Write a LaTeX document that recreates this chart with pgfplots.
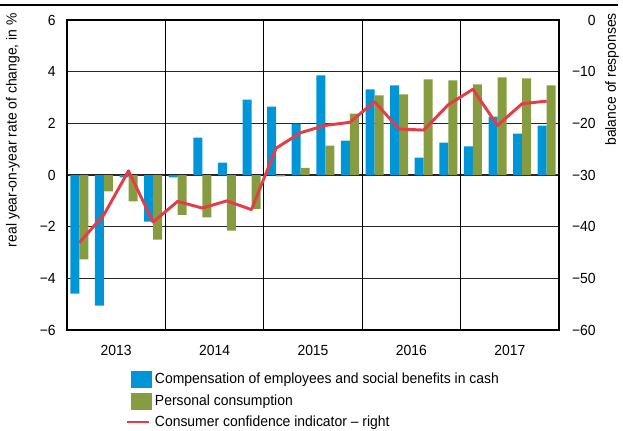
\documentclass[border=0pt]{standalone}
\usepackage{fontspec}
\setmainfont{Liberation Sans}[FakeStretch=0.95]
\usepackage{pgfplots}
\pgfplotsset{compat=1.18}

\definecolor{cblue}{HTML}{0095D6}
\definecolor{cgreen}{HTML}{879C40}
\definecolor{cred}{HTML}{E63C46}

% quarterly data, 2013Q1 .. 2017Q4
\pgfplotstableread{
q  comp   cons   conf
0  -4.59  -3.27  -43.1
1  -5.06  -0.63  -37.7
2  -0.09  -1.02  -29.2
3  -1.80  -2.50  -39.1
4  -0.09  -1.54  -35.1
5   1.45  -1.64  -36.4
6   0.48  -2.15  -35.0
7   2.92  -1.31  -36.7
8   2.65  -0.05  -24.8
9   1.99   0.28  -21.8
10  3.86   1.14  -20.4
11  1.33   2.38  -19.8
12  3.31   3.08  -15.8
13  3.47   3.12  -21.1
14  0.67   3.70  -21.3
15  1.25   3.66  -16.4
16  1.11   3.51  -13.4
17  2.26   3.78  -20.4
18  1.60   3.74  -16.2
19  1.91   3.47  -15.7
}\data

\begin{document}
\fontsize{11}{13}\selectfont
\begin{tikzpicture}
\pgfplotsset{
  every axis/.append style={
    width=369pt, height=232.5pt, scale only axis,
    xmin=-0.5, xmax=19.5,
    major tick length=0pt,
    tick label style={font=\fontsize{11}{13}\selectfont},
    label style={font=\fontsize{11}{13}\selectfont},
  },
}
\begin{axis}[
  name=ax,
  ymin=-6, ymax=6,
  ytick={-6,-4,...,6},
  yticklabels={−6,−4,−2,0,2,4,6},
  yticklabel style={anchor=east, inner sep=0pt, xshift=-8.25pt},
  xtick={1.5,5.5,9.5,13.5,17.5},
  xticklabels={2013,2014,2015,2016,2017},
  xticklabel style={anchor=north, inner sep=0pt, yshift=-11pt},
  extra x ticks={3.5,7.5,11.5,15.5},
  extra x tick labels={},
  extra x tick style={grid=major, major grid style={black, line width=0.8pt}},
  ymajorgrids=true,
  y grid style={black!85, line width=1.1pt},
  axis line style={black, line width=0.8pt},
  ylabel={real year-on-year rate of change, in \%},
  ylabel style={at={(axis description cs:-0.0955,1.023)}, anchor=south east, inner sep=0pt},
  ybar=0pt, bar width=6.75pt,
]
\addplot[fill=cblue, draw=none] table[x=q, y=comp] {\data};
\addplot[fill=cgreen, draw=none] table[x=q, y=cons] {\data};
\end{axis}
\begin{axis}[
  ymin=-60, ymax=0,
  ytick={-60,-50,...,0},
  yticklabels={−60,−50,−40,−30,−20,−10,0},
  axis y line*=right,
  axis x line=none,
  y axis line style={black, line width=0.8pt},
  yticklabel style={anchor=east, inner sep=0pt, xshift=27.75pt},
  ylabel={balance of responses},
  ylabel style={at={(axis description cs:1.0935,1.023)}, anchor=north east, inner sep=0pt},
  legend style={at={(axis description cs:0.12,-0.132)}, anchor=north west,
    draw=none, fill=none, inner sep=0pt, row sep=3.8pt,
    font=\fontsize{11}{13}\selectfont,
    nodes={inner xsep=2.5pt, inner ysep=1pt}},
  legend cell align=left,
]
\addlegendimage{legend image code/.code={\fill[cblue] (0pt,-6pt) rectangle (15pt,6pt);}}
\addlegendentry{Compensation of employees and social benefits in cash}
\addlegendimage{legend image code/.code={\fill[cgreen] (0pt,-6pt) rectangle (15pt,6pt);}}
\addlegendentry{Personal consumption}
\addplot[cred, line width=2.2pt, line join=round, mark=none,
  legend image code/.code={\draw[cred, line width=1.6pt] (-3pt,0pt) -- (13pt,0pt);}]
  table[x=q, y=conf] {\data};
\addlegendentry{Consumer confidence indicator – right}
\end{axis}
\draw[black, line width=0.8pt] ([shift={(-50.25pt,11.25pt)}]ax.north west) -- ++(463.5pt,0pt);
\pgfresetboundingbox
\path[use as bounding box] ([shift={(-50.25pt,-75pt)}]ax.south west) rectangle ([shift={(417pt,247.5pt)}]ax.south west);
\end{tikzpicture}
\end{document}
